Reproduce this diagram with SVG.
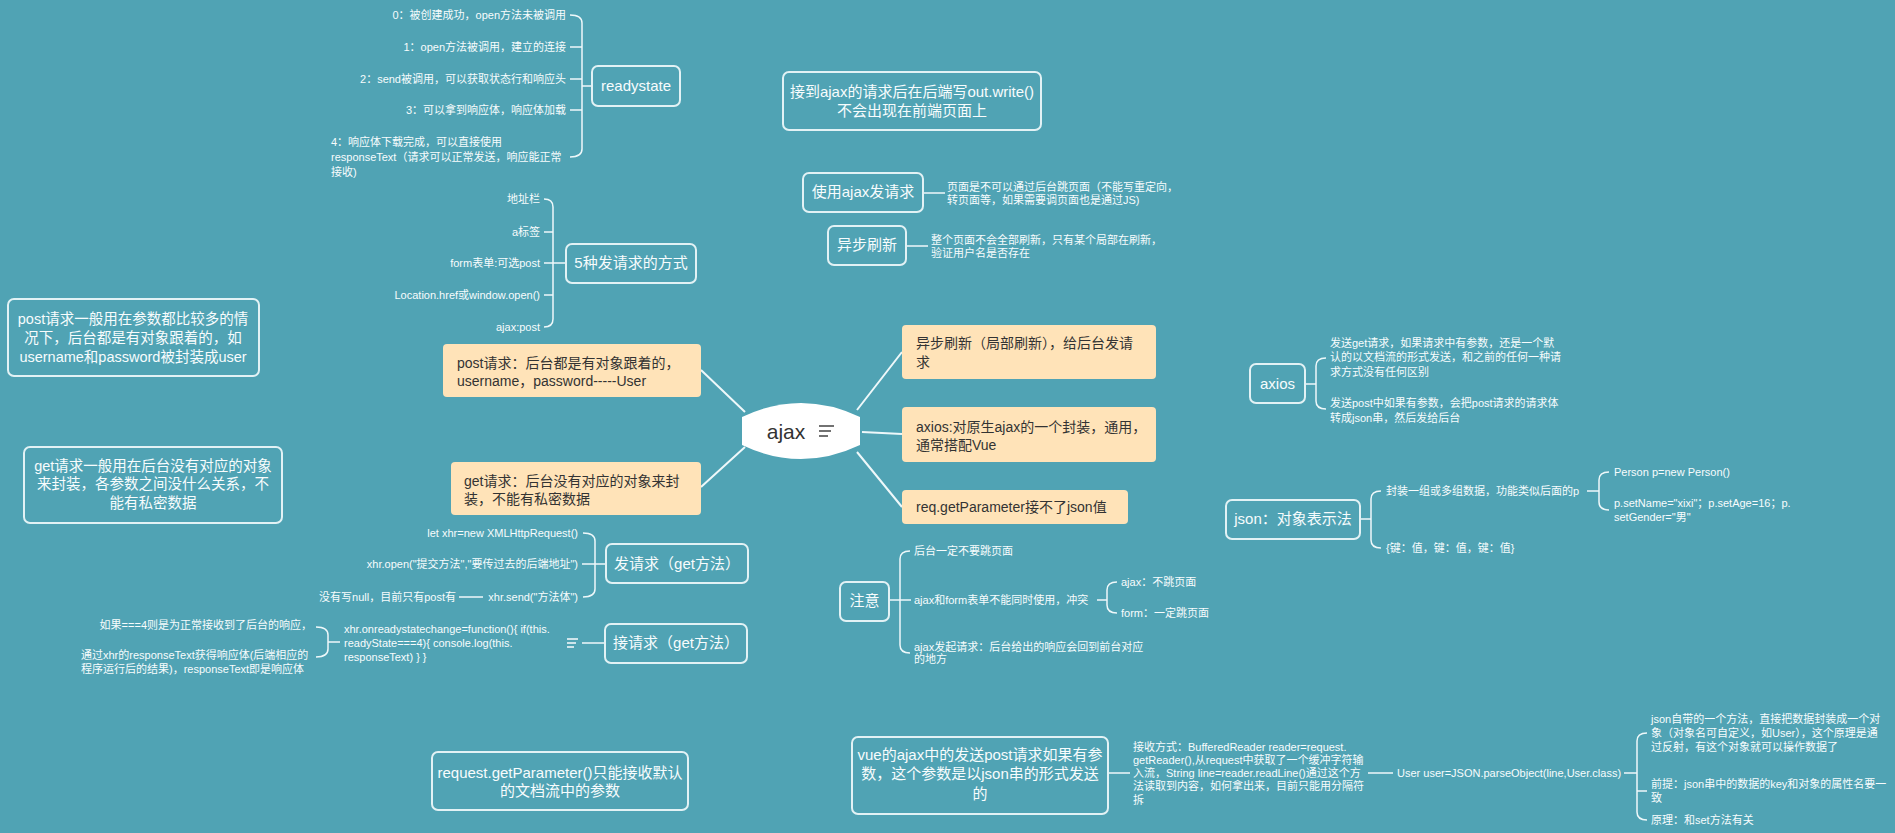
<svg xmlns="http://www.w3.org/2000/svg" width="1895" height="833" viewBox="0 0 1895 833">
<style>
text{font-family:"Liberation Sans","Noto Sans CJK SC",sans-serif;fill:#f7fcfd}
.s{font-size:11px}
.m{font-size:15px}
.e{text-anchor:end}
.c{text-anchor:middle}
.o{font-size:14px;fill:#333}
.tp{fill:none;stroke:#e2f2f5;stroke-width:2}
.or{fill:#ffe3b8}
.ln{fill:none;stroke:#eef8fa;stroke-width:1.5}
.mc{fill:none;stroke:#eef8fa;stroke-width:2}
</style>
<rect width="1895" height="833" fill="#50a3b4"/>
<g id="connectors">
<path class="mc" d="M701,370L745,412M701,487L745,447M857,410L902,352M862,432L902,434M857,452L902,507"/>
<path class="ln" d="M570,15Q582,15 582,23V149Q582,157 570,157M570,47H582M570,79H582M570,110H582M582,86H592"/>
<path class="ln" d="M544,199Q553,199 553,207V319Q553,327 544,327M544,232H553M544,263H566M544,295H553"/>
<path class="ln" d="M583,533Q595,533 595,541V589Q595,597 583,597M582,564H606M459,597H483"/>
<path class="ln" d="M316,627Q328,627 328,635V649Q328,657 316,657M328,642H340M582,643H605"/>
<path class="ln" d="M923,193H945M906,246H928"/>
<path class="ln" d="M1326,358Q1316,358 1316,366V401Q1316,409 1326,409M1305,384H1316"/>
<path class="ln" d="M1381,491Q1371,491 1371,499V540Q1371,548 1381,548M1360,519H1371M1609,472Q1599,472 1599,480V502Q1599,510 1609,510M1587,491H1599"/>
<path class="ln" d="M910,551Q900,551 900,559V645Q900,653 910,653M889,600H911M1117,582Q1107,582 1107,590V605Q1107,613 1117,613M1097,600H1107"/>
<path class="ln" d="M1108,773H1130M1368,773H1393M1647,733Q1637,733 1637,741V812Q1637,820 1647,820M1624,773H1637M1637,791H1647"/>
</g>
<g id="ajax">
<path d="M742,417Q801,389 860,417L860,445Q801,473 742,445Z" fill="#fff"/>
<text x="786" y="439" class="c" style="font-size:21px;fill:#333">ajax</text>
<path d="M819,426H834M819,431H831M819,436H828" stroke="#444" stroke-width="1.5"/>
</g>
<g id="post-orange"><rect class="or" x="443" y="344" width="258" height="53" rx="4"/>
<text class="o" x="457" y="368">post请求：后台都是有对象跟着的，</text><text class="o" x="457" y="386">username，password-----User</text></g>
<g id="get-orange"><rect class="or" x="451" y="462" width="250" height="53" rx="4"/>
<text class="o" x="464" y="486">get请求：后台没有对应的对象来封</text><text class="o" x="464" y="504">装，不能有私密数据</text></g>
<g id="async-orange"><rect class="or" x="902" y="325" width="254" height="54" rx="4"/>
<text class="o" x="916" y="348">异步刷新（局部刷新），给后台发请</text><text class="o" x="916" y="367">求</text></g>
<g id="axios-orange"><rect class="or" x="902" y="407" width="254" height="55" rx="4"/>
<text class="o" x="916" y="432">axios:对原生ajax的一个封装，通用，</text><text class="o" x="916" y="450">通常搭配Vue</text></g>
<g id="req-orange"><rect class="or" x="902" y="490" width="226" height="34" rx="4"/>
<text class="o" x="916" y="512">req.getParameter接不了json值</text></g>
<g id="readystate">
<rect class="tp" x="592" y="66" width="88" height="40" rx="6"/>
<text class="m c" x="636" y="91">readystate</text>
<text class="s e" x="566" y="19">0：被创建成功，open方法未被调用</text>
<text class="s e" x="566" y="51">1：open方法被调用，建立的连接</text>
<text class="s e" x="566" y="83">2：send被调用，可以获取状态行和响应头</text>
<text class="s e" x="566" y="114">3：可以拿到响应体，响应体加载</text>
<text class="s" x="331" y="146">4：响应体下载完成，可以直接使用</text>
<text class="s" x="331" y="161">responseText（请求可以正常发送，响应能正常</text>
<text class="s" x="331" y="176">接收)</text>
</g>
<g id="five-ways">
<rect class="tp" x="566" y="244" width="130" height="39" rx="6"/>
<text class="m c" x="631" y="268">5种发请求的方式</text>
<text class="s e" x="540" y="203">地址栏</text>
<text class="s e" x="540" y="236">a标签</text>
<text class="s e" x="540" y="267">form表单:可选post</text>
<text class="s e" x="540" y="299">Location.href或window.open()</text>
<text class="s e" x="540" y="331">ajax:post</text>
</g>
<g id="note-post">
<rect class="tp" x="8" y="299" width="251" height="77" rx="6"/>
<text class="c" style="font-size:14.5px" x="133" y="324">post请求一般用在参数都比较多的情</text>
<text class="c" style="font-size:14.5px" x="133" y="343">况下，后台都是有对象跟着的，如</text>
<text class="c" style="font-size:14.5px" x="133" y="362">username和password被封装成user</text>
</g>
<g id="note-get">
<rect class="tp" x="24" y="447" width="258" height="76" rx="6"/>
<text class="c" style="font-size:14.5px" x="153" y="471">get请求一般用在后台没有对应的对象</text>
<text class="c" style="font-size:14.5px" x="153" y="489">来封装，各参数之间没什么关系，不</text>
<text class="c" style="font-size:14.5px" x="153" y="508">能有私密数据</text>
</g>
<g id="send-get">
<rect class="tp" x="606" y="544" width="142" height="39" rx="6"/>
<text class="m c" x="677" y="569">发请求（get方法）</text>
<text class="s e" x="578" y="537">let xhr=new XMLHttpRequest()</text>
<text class="s e" x="578" y="568">xhr.open("提交方法","要传过去的后端地址")</text>
<text class="s e" x="578" y="601">xhr.send("方法体")</text>
<text class="s e" x="456" y="601">没有写null，目前只有post有</text>
</g>
<g id="recv-get">
<rect class="tp" x="605" y="624" width="142" height="39" rx="6"/>
<text class="m c" x="676" y="648">接请求（get方法）</text>
<path d="M567,639H578M567,643H576M567,647H574" stroke="#f7fcfd" stroke-width="1.3"/>
<text class="s" x="344" y="633">xhr.onreadystatechange=function(){ if(this.</text>
<text class="s" x="344" y="647">readyState===4){ console.log(this.</text>
<text class="s" x="344" y="661">responseText) } }</text>
<text class="s e" x="312" y="629">如果===4则是为正常接收到了后台的响应，</text>
<text class="s" x="81" y="659">通过xhr的responseText获得响应体(后端相应的</text>
<text class="s" x="81" y="673">程序运行后的结果)，responseText即是响应体</text>
</g>
<g id="out-write">
<rect class="tp" x="783" y="72" width="258" height="58" rx="6"/>
<text class="m c" x="912" y="97">接到ajax的请求后在后端写out.write()</text>
<text class="m c" x="912" y="116">不会出现在前端页面上</text>
</g>
<g id="use-ajax">
<rect class="tp" x="803" y="173" width="120" height="39" rx="6"/>
<text class="m c" x="863" y="197">使用ajax发请求</text>
<text class="s" x="947" y="191">页面是不可以通过后台跳页面（不能写重定向，</text>
<text class="s" x="947" y="204">转页面等，如果需要调页面也是通过JS)</text>
</g>
<g id="async-refresh">
<rect class="tp" x="828" y="226" width="78" height="39" rx="6"/>
<text class="m c" x="867" y="250">异步刷新</text>
<text class="s" x="931" y="244">整个页面不会全部刷新，只有某个局部在刷新，</text>
<text class="s" x="931" y="257">验证用户名是否存在</text>
</g>
<g id="axios">
<rect class="tp" x="1250" y="364" width="55" height="39" rx="6"/>
<text class="m c" x="1277.5" y="389">axios</text>
<text class="s" x="1330" y="347">发送get请求，如果请求中有参数，还是一个默</text>
<text class="s" x="1330" y="361">认的以文档流的形式发送，和之前的任何一种请</text>
<text class="s" x="1330" y="376">求方式没有任何区别</text>
<text class="s" x="1330" y="407">发送post中如果有参数，会把post请求的请求体</text>
<text class="s" x="1330" y="422">转成json串，然后发给后台</text>
</g>
<g id="json">
<rect class="tp" x="1226" y="500" width="134" height="39" rx="6"/>
<text class="m c" x="1293" y="524">json：对象表示法</text>
<text class="s" x="1386" y="495">封装一组或多组数据，功能类似后面的p</text>
<text class="s" x="1386" y="552">{键：值，键：值，键：值}</text>
<text class="s" x="1614" y="476">Person p=new Person()</text>
<text class="s" x="1614" y="507">p.setName="xixi"；p.setAge=16；p.</text>
<text class="s" x="1614" y="521">setGender="男"</text>
</g>
<g id="notice">
<rect class="tp" x="840" y="582" width="49" height="39" rx="6"/>
<text class="m c" x="864.5" y="606">注意</text>
<text class="s" x="914" y="555">后台一定不要跳页面</text>
<text class="s" x="914" y="604">ajax和form表单不能同时使用，冲突</text>
<text class="s" x="914" y="651">ajax发起请求：后台给出的响应会回到前台对应</text>
<text class="s" x="914" y="663">的地方</text>
<text class="s" x="1121" y="586">ajax：不跳页面</text>
<text class="s" x="1121" y="617">form：一定跳页面</text>
</g>
<g id="req-param">
<rect class="tp" x="432" y="752" width="256" height="58" rx="6"/>
<text class="m c" x="560" y="778">request.getParameter()只能接收默认</text>
<text class="m c" x="560" y="796">的文档流中的参数</text>
</g>
<g id="vue-post">
<rect class="tp" x="852" y="737" width="256" height="77" rx="6"/>
<text class="m c" x="980" y="760">vue的ajax中的发送post请求如果有参</text>
<text class="m c" x="980" y="779">数，这个参数是以json串的形式发送</text>
<text class="m c" x="980" y="799">的</text>
<text class="s" x="1133" y="751">接收方式：BufferedReader reader=request.</text>
<text class="s" x="1133" y="764">getReader(),从request中获取了一个缓冲字符输</text>
<text class="s" x="1133" y="777">入流，String line=reader.readLine()通过这个方</text>
<text class="s" x="1133" y="790">法读取到内容，如何拿出来，目前只能用分隔符</text>
<text class="s" x="1133" y="804">拆</text>
<text class="s" x="1397" y="777">User user=JSON.parseObject(line,User.class)</text>
<text class="s" x="1651" y="723">json自带的一个方法，直接把数据封装成一个对</text>
<text class="s" x="1651" y="737">象（对象名可自定义，如User），这个原理是通</text>
<text class="s" x="1651" y="751">过反射，有这个对象就可以操作数据了</text>
<text class="s" x="1651" y="788">前提：json串中的数据的key和对象的属性名要一</text>
<text class="s" x="1651" y="802">致</text>
<text class="s" x="1651" y="824">原理：和set方法有关</text>
</g>
</svg>
